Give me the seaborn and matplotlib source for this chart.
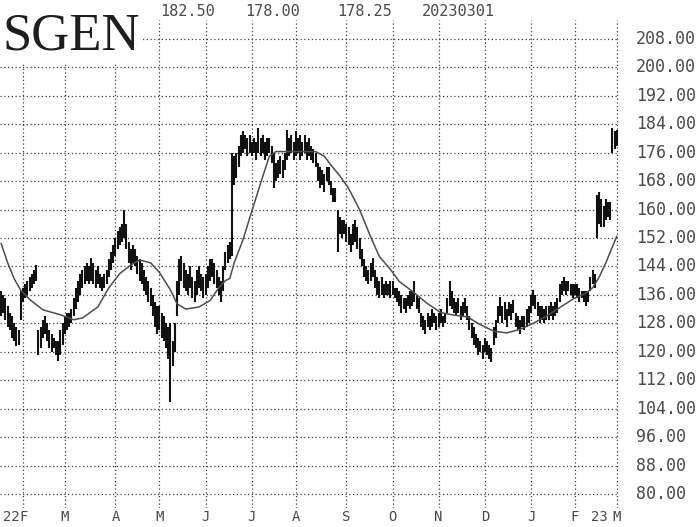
import matplotlib
matplotlib.use("Agg")
import matplotlib.pyplot as plt
import matplotlib.transforms as mtransforms
import seaborn as sns
import numpy as np
import pandas as pd

# ---- daily high / low (one list per month) ----
jan22_lo = [130, 131, 129, 127, 126, 124, 123, 121.5, 122, 129]
jan22_hi = [137, 136, 135, 133, 131, 130, 128, 127, 126, 137]
feb22_lo = [134, 135, 136, 137, 138, 139, 140, 119, 121, 124, 125, 123, 121, 120, 121, 119, 117.5, 119, 122]
feb22_hi = [138, 139, 140, 141, 142, 143, 144.5, 126, 127, 129, 130, 128, 126, 125, 124, 123, 123, 126, 128]
mar22_lo = [125, 126, 127, 128, 130, 132, 134, 136, 138, 139, 140, 139, 140, 139, 138, 139, 138,
            137, 138, 139, 141, 143, 145]
mar22_hi = [130, 131, 131, 132, 135, 138, 140, 142, 143, 144, 145, 144, 146.5, 145, 143, 144, 142,
            141, 142, 143, 146, 148, 150]
apr22_lo = [147, 149, 150, 151, 152, 149, 145, 143, 145, 144, 142, 140, 139, 137, 136, 134, 133, 130, 127, 125]
apr22_hi = [152, 154, 155, 156, 160, 156, 151, 149, 150, 149, 147, 146, 145, 143, 141, 140, 138, 136, 134, 133]
may22_lo = [126, 124, 123, 121, 118, 106, 116, 120, 130, 136, 140, 138, 137, 136, 138, 135, 134, 136, 138, 137, 135]
may22_hi = [133, 131, 130, 128, 127, 128, 123, 128, 140, 146, 147, 145, 143, 142, 144, 141, 140, 143, 144, 142, 141]
jun22_lo = [136, 138, 140, 141, 139, 138, 136, 134, 137, 143, 145, 146, 147, 167, 169, 172, 175, 176, 177, 175, 176]
jun22_hi = [142, 144, 146, 146, 145, 143, 141, 140, 144, 148, 150, 151, 176, 175, 176, 178, 181, 182, 181, 180, 181]
jul22_lo = [175, 176, 174, 176, 175, 176, 174, 175, 176, 173, 166, 168, 169, 170, 169, 171, 174, 175, 176, 174]
jul22_hi = [179, 180, 179, 183, 180, 181, 179, 180, 180, 178, 176, 173, 174, 175, 174, 176, 182.5, 180, 181, 179]
aug22_lo = [175, 176, 174, 175, 176, 174, 175, 174, 173, 172, 168, 166, 167, 165, 168, 167, 164, 162, 162,
            148, 153, 152, 153]
aug22_hi = [182, 180, 181, 179, 181, 179, 180, 178, 177, 176, 173, 172, 171, 170, 172, 172, 168, 166, 166,
            160, 158, 157, 157]
sep22_lo = [151, 150, 148, 150, 151, 149, 146, 144, 141, 140, 139, 140, 141, 138, 136, 135, 136, 135, 136, 136, 135]
sep22_hi = [156, 155, 153, 156, 157, 155, 152, 149, 146, 144, 143, 145, 146.5, 143, 141, 140, 141, 139, 140, 139, 140]
oct22_lo = [136, 135, 134, 133, 131, 132, 131, 133, 132, 133, 134, 132, 131, 127, 126, 125, 127, 126, 127, 128, 126]
oct22_hi = [140, 138, 138, 137, 136, 135, 135, 136, 137, 137, 140, 136, 135, 131, 130, 129, 131, 130, 132, 131, 130]
nov22_lo = [127, 128, 127, 128, 131, 133, 132, 131, 130, 131, 129, 130, 131, 129, 126, 124, 122, 121, 119, 120, 118]
nov22_hi = [131, 132, 130, 131, 135, 140, 137, 135, 134, 135, 133, 134, 135, 133, 130, 128, 127, 125, 124, 123, 122]
dec22_lo = [120, 119, 118, 117, 122, 124, 128, 130, 128, 129, 127, 130, 129, 131, 127, 126, 125, 127, 126, 127, 128]
dec22_hi = [124, 123, 122, 121, 127, 129, 133, 135.5, 133, 134, 132, 134, 133.5, 134.5, 131, 130, 129, 130, 130,
            132, 133]
jan23_lo = [131, 133, 132, 130, 128, 129, 128, 129, 129, 130, 129, 130, 131, 134, 136, 137, 136, 137, 136, 135]
jan23_hi = [136, 137.5, 136, 134, 133, 133, 132, 133, 133, 134, 133, 134, 135, 139, 140, 141, 140, 140, 139, 139]
feb23_lo = [136, 135, 134, 135, 134, 133, 134, 137, 139, 138, 152, 156, 155, 155, 157, 158, 157, 176, 177]
feb23_hi = [139, 139, 138, 137, 137, 137, 137, 141, 143, 142, 164, 165, 163, 161, 163, 162, 162, 183, 182]
mar23_lo = [178]
mar23_hi = [182.5]

# ---- moving average, read at a few dates ----
ma_dates = ["2022-01-18", "2022-01-21", "2022-01-26", "2022-01-31", "2022-02-02", "2022-02-04",
            "2022-02-14", "2022-02-25", "2022-03-07", "2022-03-11", "2022-03-22", "2022-03-29",
            "2022-04-05", "2022-04-12", "2022-04-19", "2022-04-26", "2022-05-02", "2022-05-09",
            "2022-05-12", "2022-05-18", "2022-05-26", "2022-06-03", "2022-06-09", "2022-06-14",
            "2022-06-16", "2022-06-21", "2022-06-27", "2022-07-01", "2022-07-11", "2022-07-14",
            "2022-07-19", "2022-08-12", "2022-08-18", "2022-08-23", "2022-08-29", "2022-09-02",
            "2022-09-12", "2022-09-19", "2022-09-23", "2022-09-30", "2022-10-06", "2022-10-14",
            "2022-10-25", "2022-11-02", "2022-11-10", "2022-11-18", "2022-11-29", "2022-12-07",
            "2022-12-15", "2022-12-23", "2023-01-04", "2023-01-12", "2023-01-23", "2023-01-31",
            "2023-02-08", "2023-02-13", "2023-02-16", "2023-02-22", "2023-02-28", "2023-03-01"]
ma_values = [150.5, 145, 140.5, 137.2, 136, 134.7,
             131.8, 130.4, 129, 129.5, 132.6, 138,
             142, 144.4, 145.8, 145, 142.3, 137.4,
             133.5, 132, 132.6, 134.4, 138, 140,
             140.6, 145, 151.5, 159.5, 169.3, 175,
             176.3, 176.3, 175, 172.5, 169.5, 166,
             160, 152.4, 146.8, 143.2, 139.8, 137,
             133.5, 131, 130.3, 129.8, 127.6, 125.8,
             125.3, 126.3, 128, 130, 132.4, 134.8,
             136.5, 138, 141, 145, 151, 152.5]

price_ticks = [80, 88, 96, 104, 112, 120, 128, 136, 144, 152, 160, 168, 176, 184, 192, 200, 208]
month_labels = ["F", "M", "A", "M", "J", "J", "A", "S", "O", "N", "D", "J", "F", "M"]
header_values = ["182.50", "178.00", "178.25", "20230301"]

holidays = ["2022-02-21", "2022-04-15", "2022-05-30", "2022-06-20", "2022-07-04", "2022-09-05",
            "2022-11-24", "2022-12-26", "2023-01-02", "2023-01-16", "2023-02-20"]
sessions = pd.bdate_range("2022-01-18", "2023-03-01", freq="C", holidays=holidays)

lows = (jan22_lo + feb22_lo + mar22_lo + apr22_lo + may22_lo + jun22_lo + jul22_lo + aug22_lo
        + sep22_lo + oct22_lo + nov22_lo + dec22_lo + jan23_lo + feb23_lo + mar23_lo)
highs = (jan22_hi + feb22_hi + mar22_hi + apr22_hi + may22_hi + jun22_hi + jul22_hi + aug22_hi
         + sep22_hi + oct22_hi + nov22_hi + dec22_hi + jan23_hi + feb23_hi + mar23_hi)
bars = pd.DataFrame({"date": sessions, "low": lows, "high": highs})
bars["pos"] = np.arange(len(bars))

ma = pd.DataFrame({"date": pd.to_datetime(ma_dates), "ma": ma_values})
ma["pos"] = sessions.searchsorted(ma["date"])

month_first = bars.groupby(bars["date"].dt.to_period("M"))["pos"].first().iloc[1:]

sns.set_style("white")
W, H = 700, 527
fig = plt.figure(figsize=(7, 5.27), dpi=100)
ax = fig.add_axes([0, (H - 508) / H, 619 / W, 488 / H])
ax.set_xlim(-0.5, 281.0)
ax.set_ylim(76.06, 213.3)

grid_kw = dict(color="#3c3c3c", lw=0.9, linestyles=(0, (1, 2)))
ax.hlines(price_ticks, -0.5, bars["pos"].iloc[-1], zorder=1, **grid_kw)
ax.vlines(month_first.values, 76.06, 213.3, zorder=1, **grid_kw)

ax.vlines(bars["pos"], bars["low"], bars["high"], color="#111111", lw=1.5, zorder=3)
sns.lineplot(data=ma, x="pos", y="ma", ax=ax, color="#4d4d4d", lw=1.1, zorder=4)
ax.set_axis_off()

mono = "DejaVu Sans Mono"
grey = "#4a4a4a"

# price scale on the right
ytrans = mtransforms.blended_transform_factory(fig.transFigure, ax.transData)
for v in price_ticks:
    ax.text(636 / W, v, f"{v:.2f}", transform=ytrans, ha="left", va="center",
            family=mono, fontsize=12, color=grey, clip_on=False)

# month letters below
xtrans = mtransforms.blended_transform_factory(ax.transData, fig.transFigure)
for p, lab in zip(month_first.values, month_labels):
    ax.text(p, 1 - 517 / H, lab, transform=xtrans, ha="center", va="center",
            family=mono, fontsize=10, color=grey, clip_on=False)
ax.text(month_first.values[0] - 1.6, 1 - 517 / H, "22", transform=xtrans, ha="right", va="center",
        family=mono, fontsize=10, color=grey, clip_on=False)
ax.text(month_first.values[-2] + 7.2, 1 - 517 / H, "23", transform=xtrans, ha="left", va="center",
        family=mono, fontsize=10, color=grey, clip_on=False)

# header
fig.text(2 / W, 1 - 50 / H, "SGEN", ha="left", va="baseline", family="Liberation Serif",
         fontsize=38, color="#1e1e1e", zorder=5,
         bbox=dict(facecolor="white", edgecolor="none", pad=2))
for xpx, s in zip([160, 245, 337, 422], header_values):
    fig.text(xpx / W, 1 - 12 / H, s, ha="left", va="center", family=mono,
             fontsize=11, color=grey)

fig.savefig("out.png", dpi=100)
